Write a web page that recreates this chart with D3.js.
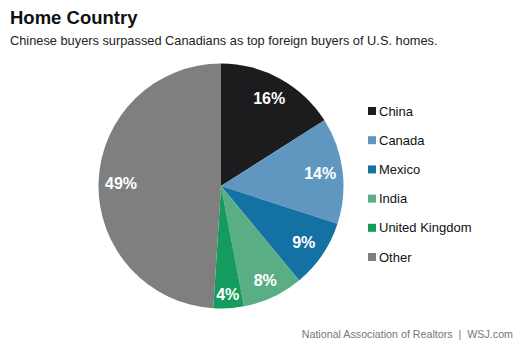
<!DOCTYPE html>
<html>
<head>
<meta charset="utf-8">
<script src="https://cdn.jsdelivr.net/npm/d3@7"></script>
<style>
  html, body { margin: 0; padding: 0; background: #fff; }
  svg { display: block; font-family: "Liberation Sans", Arial, Helvetica, sans-serif; }
</style>
</head>
<body>
<svg id="chart" width="520" height="348"></svg>
<script>
// Share of foreign buyers of U.S. homes by home country (%)
const countries = ["China", "Canada", "Mexico", "India", "United Kingdom", "Other"];
const shares = [16, 14, 9, 8, 4, 49];
const colors = ["#1c1c1e", "#5f97c1", "#1471a3", "#5aae86", "#159b5e", "#7f7f7f"];

const svg = d3.select("#chart");
const W = 520, H = 348;
const cx = 221, cy = 186, R = 122.5;

svg.append("rect").attr("width", W).attr("height", H).attr("fill", "#fff");

// Title and subtitle
svg.append("text")
  .attr("x", 10).attr("y", 24)
  .attr("font-size", 18.5).attr("font-weight", "bold").attr("fill", "#111")
  .text("Home Country");
svg.append("text")
  .attr("x", 10).attr("y", 45)
  .attr("font-size", 12.8).attr("fill", "#222")
  .text("Chinese buyers surpassed Canadians as top foreign buyers of U.S. homes.");

const data = countries.map((c, i) => ({ name: c, value: shares[i], color: colors[i] }));

const pie = d3.pie().value(d => d.value).sort(null);
const arcs = pie(data);
const arc = d3.arc().innerRadius(0).outerRadius(R);

const g = svg.append("g").attr("transform", `translate(${cx},${cy})`);

g.selectAll("path.slice")
  .data(arcs)
  .join("path")
  .attr("class", "slice")
  .attr("d", arc)
  .attr("fill", d => d.data.color);

// Percentage labels; thin slices get their label pushed a bit further out
const labelR = d => {
  const v = d.data.value;
  return v <= 5 ? 108 : v <= 8 ? 104 : 100;
};
g.selectAll("text.pct")
  .data(arcs)
  .join("text")
  .attr("class", "pct")
  .attr("transform", d => {
    const a = (d.startAngle + d.endAngle) / 2;
    const r = labelR(d);
    return `translate(${Math.sin(a) * r},${-Math.cos(a) * r})`;
  })
  .attr("text-anchor", "middle")
  .attr("dy", "0.36em")
  .attr("font-size", 16).attr("font-weight", "bold").attr("fill", "#fff")
  .text(d => d.data.value + "%");

// Legend
const legendY = d3.scalePoint().domain(countries).range([111, 257]);
const legend = svg.append("g");
const items = legend.selectAll("g.item")
  .data(data)
  .join("g")
  .attr("class", "item")
  .attr("transform", d => `translate(368,${legendY(d.name)})`);
items.append("rect")
  .attr("x", 0).attr("y", -4).attr("width", 8).attr("height", 8)
  .attr("fill", d => d.color);
items.append("text")
  .attr("x", 11).attr("dy", "0.36em")
  .attr("font-size", 13).attr("fill", "#111")
  .text(d => d.name);

// Source line
svg.append("text")
  .attr("x", 513).attr("y", 338)
  .attr("text-anchor", "end")
  .style("white-space", "pre")
  .attr("font-size", 10.7).attr("fill", "#777")
  .text("National Association of Realtors  |  WSJ.com");
</script>
</body>
</html>
